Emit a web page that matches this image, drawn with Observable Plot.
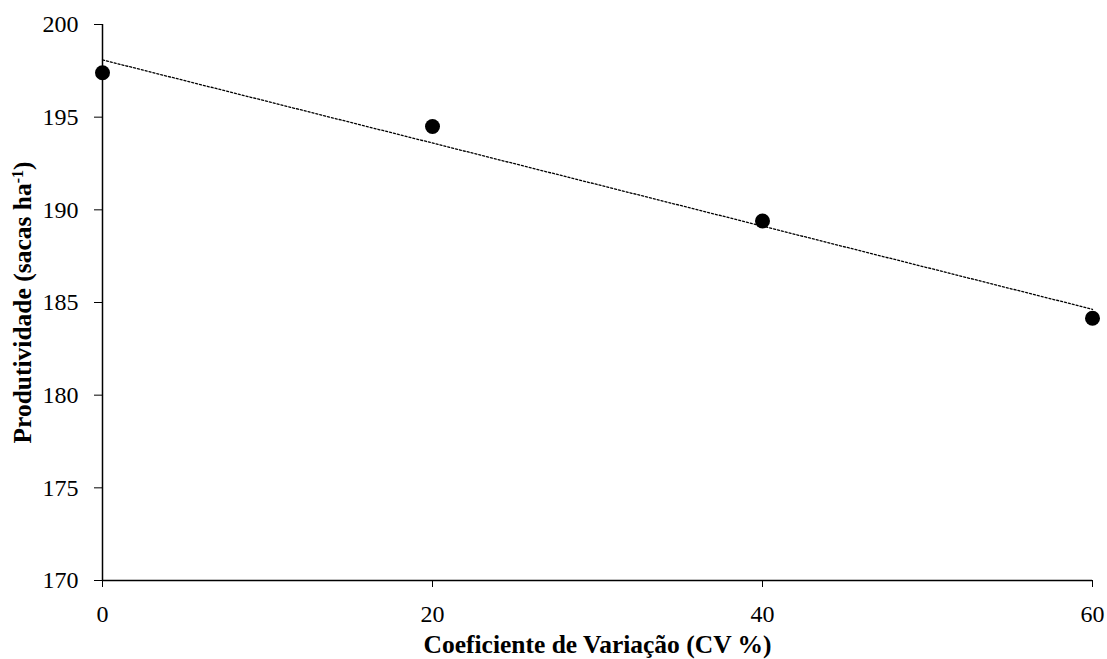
<!DOCTYPE html>
<html>
<head>
<meta charset="utf-8">
<script src="https://cdn.jsdelivr.net/npm/d3@7"></script>
<script src="https://cdn.jsdelivr.net/npm/@observablehq/plot@0.6"></script>
<style>
  html, body { margin: 0; padding: 0; background: #fff; }
  #chart svg { display: block; }
</style>
</head>
<body>
<div id="chart"></div>
<script>
const cv = [0, 20, 40, 60];
const produtividade = [197.4, 194.5, 189.4, 184.15];
const xTicks = [0, 20, 40, 60];
const yTicks = [170, 175, 180, 185, 190, 195, 200];
const xLabel = "Coeficiente de Variação (CV %)";
const yLabel = "Produtividade (sacas ha-1)";

const data = cv.map((x, i) => ({x, y: produtividade[i]}));

const chart = Plot.plot({
  width: 1107,
  height: 659,
  marginLeft: 102,
  marginRight: 15,
  marginTop: 24,
  marginBottom: 79,
  style: {fontFamily: "'Liberation Serif', 'Times New Roman', serif", fontSize: "24px", color: "#000", background: "#fff"},
  x: {domain: [0, 60]},
  y: {domain: [170, 200]},
  marks: [
    Plot.axisX({ticks: xTicks, tickSize: 7, tickPadding: 17, tickFormat: d => String(d), label: null}),
    Plot.axisY({ticks: yTicks, tickSize: 8, tickPadding: 16, tickFormat: d => String(d), label: null}),
    Plot.axisX({ticks: [], label: xLabel, labelAnchor: "center", labelOffset: 72, tickSize: 0}),
    Plot.axisY({ticks: [], label: yLabel, labelAnchor: "center", labelOffset: 90, tickSize: 0}),
    Plot.ruleY([170], {stroke: "#000", strokeWidth: 1.5}),
    Plot.ruleX([0], {stroke: "#000", strokeWidth: 1.5}),
    Plot.linearRegressionY(data, {x: "x", y: "y", ci: 0, stroke: "#000", strokeWidth: 1.3, strokeDasharray: "2,2"}),
    Plot.dot(data, {x: "x", y: "y", r: 7.5, fill: "#000", stroke: "none"})
  ]
});

document.getElementById("chart").appendChild(chart);

const svg = d3.select(chart);
svg.selectAll("text").each(function() {
  const t = d3.select(this);
  let s = this.textContent.replace(/\s*[→←↑↓]\s*/g, "").trim();
  if (s === yLabel) {
    t.text(null);
    t.append("tspan").text("Produtividade (sacas ha");
    t.append("tspan").attr("baseline-shift", "super").attr("font-size", "16px").text("-1");
    t.append("tspan").text(")");
    t.attr("font-size", "25.5px").attr("font-weight", "bold");
  } else if (s === xLabel) {
    t.text(s).attr("font-size", "25.5px").attr("font-weight", "bold");
  } else {
    t.attr("font-size", "24px");
  }
});
</script>
</body>
</html>
